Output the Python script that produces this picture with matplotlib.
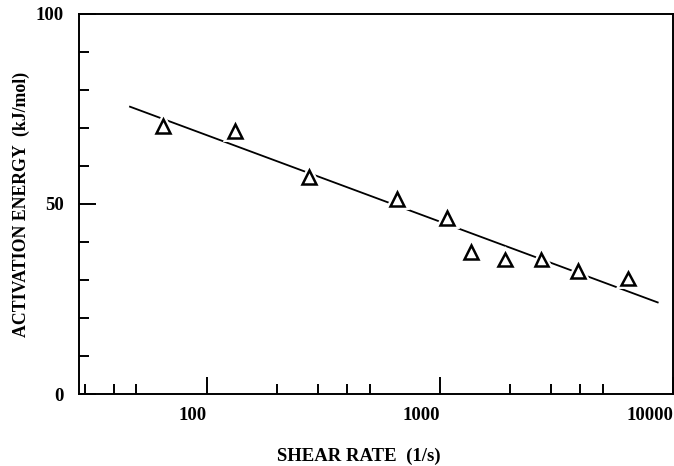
import numpy as np
import matplotlib
matplotlib.use("Agg")
import matplotlib.pyplot as plt
import matplotlib.patheffects as pe
from matplotlib.ticker import FixedLocator, NullFormatter

shear_rate = [65, 132, 275, 655, 1070, 1360, 1910, 2730, 3930, 6430]
act_energy = [70.6, 69.3, 57.0, 51.4, 46.2, 37.3, 35.4, 35.4, 32.3, 30.4]

# fitted line end points
fit_rate = [47, 8600]
fit_energy = [75.6, 24.1]

x_major = [100, 1000, 10000]
x_minor = [30, 40, 50, 200, 300, 400, 500, 2000, 3000, 4000, 5000]
y_major = [0, 50, 100]
y_minor = [10, 20, 30, 40, 60, 70, 80, 90]

plt.rcParams['font.family'] = ['Liberation Serif', 'DejaVu Serif']
plt.rcParams['font.weight'] = 'bold'

fig = plt.figure(figsize=(6.74, 4.66), dpi=100)
ax = fig.add_axes([0.1172, 0.1545, 0.8813, 0.8155])

ax.plot(fit_rate, fit_energy, color='black', lw=1.3, zorder=2)
ax.plot(shear_rate, act_energy, linestyle='none', marker='^', ms=10,
        mfc='white', mec='black', mew=1.8, zorder=3,
        path_effects=[pe.Stroke(linewidth=5, foreground='white'), pe.Normal()])

ax.set_xscale('log')
ax.set_xlim(28.4, 10000)
ax.set_ylim(0, 100)

ax.xaxis.set_major_locator(FixedLocator(x_major))
ax.xaxis.set_minor_locator(FixedLocator(x_minor))
ax.xaxis.set_minor_formatter(NullFormatter())
ax.set_xticklabels([str(v) for v in x_major])
ax.yaxis.set_major_locator(FixedLocator(y_major))
ax.yaxis.set_minor_locator(FixedLocator(y_minor))
ax.set_yticklabels([str(v) for v in y_major])

ax.tick_params(which='both', direction='in', width=1.4, labelsize=13.5,
               top=False, right=False)
ax.tick_params(which='major', length=12)
ax.tick_params(which='minor', length=7.5)
ax.tick_params(axis='x', pad=9)
ax.tick_params(axis='y', pad=11)
for lab in ax.get_xticklabels():
    lab.set_horizontalalignment('right')

for sp in ax.spines.values():
    sp.set_linewidth(1.4)

ax.set_xlabel('SHEAR RATE  (1/s)', fontsize=13.5, fontweight='bold')
ax.set_ylabel('ACTIVATION ENERGY  (kJ/mol)', fontsize=12.8, fontweight='bold')
ax.xaxis.set_label_coords(0.471, -0.14)
ax.yaxis.set_label_coords(-0.082, 0.5)

fig.savefig('out.png', dpi=100)
